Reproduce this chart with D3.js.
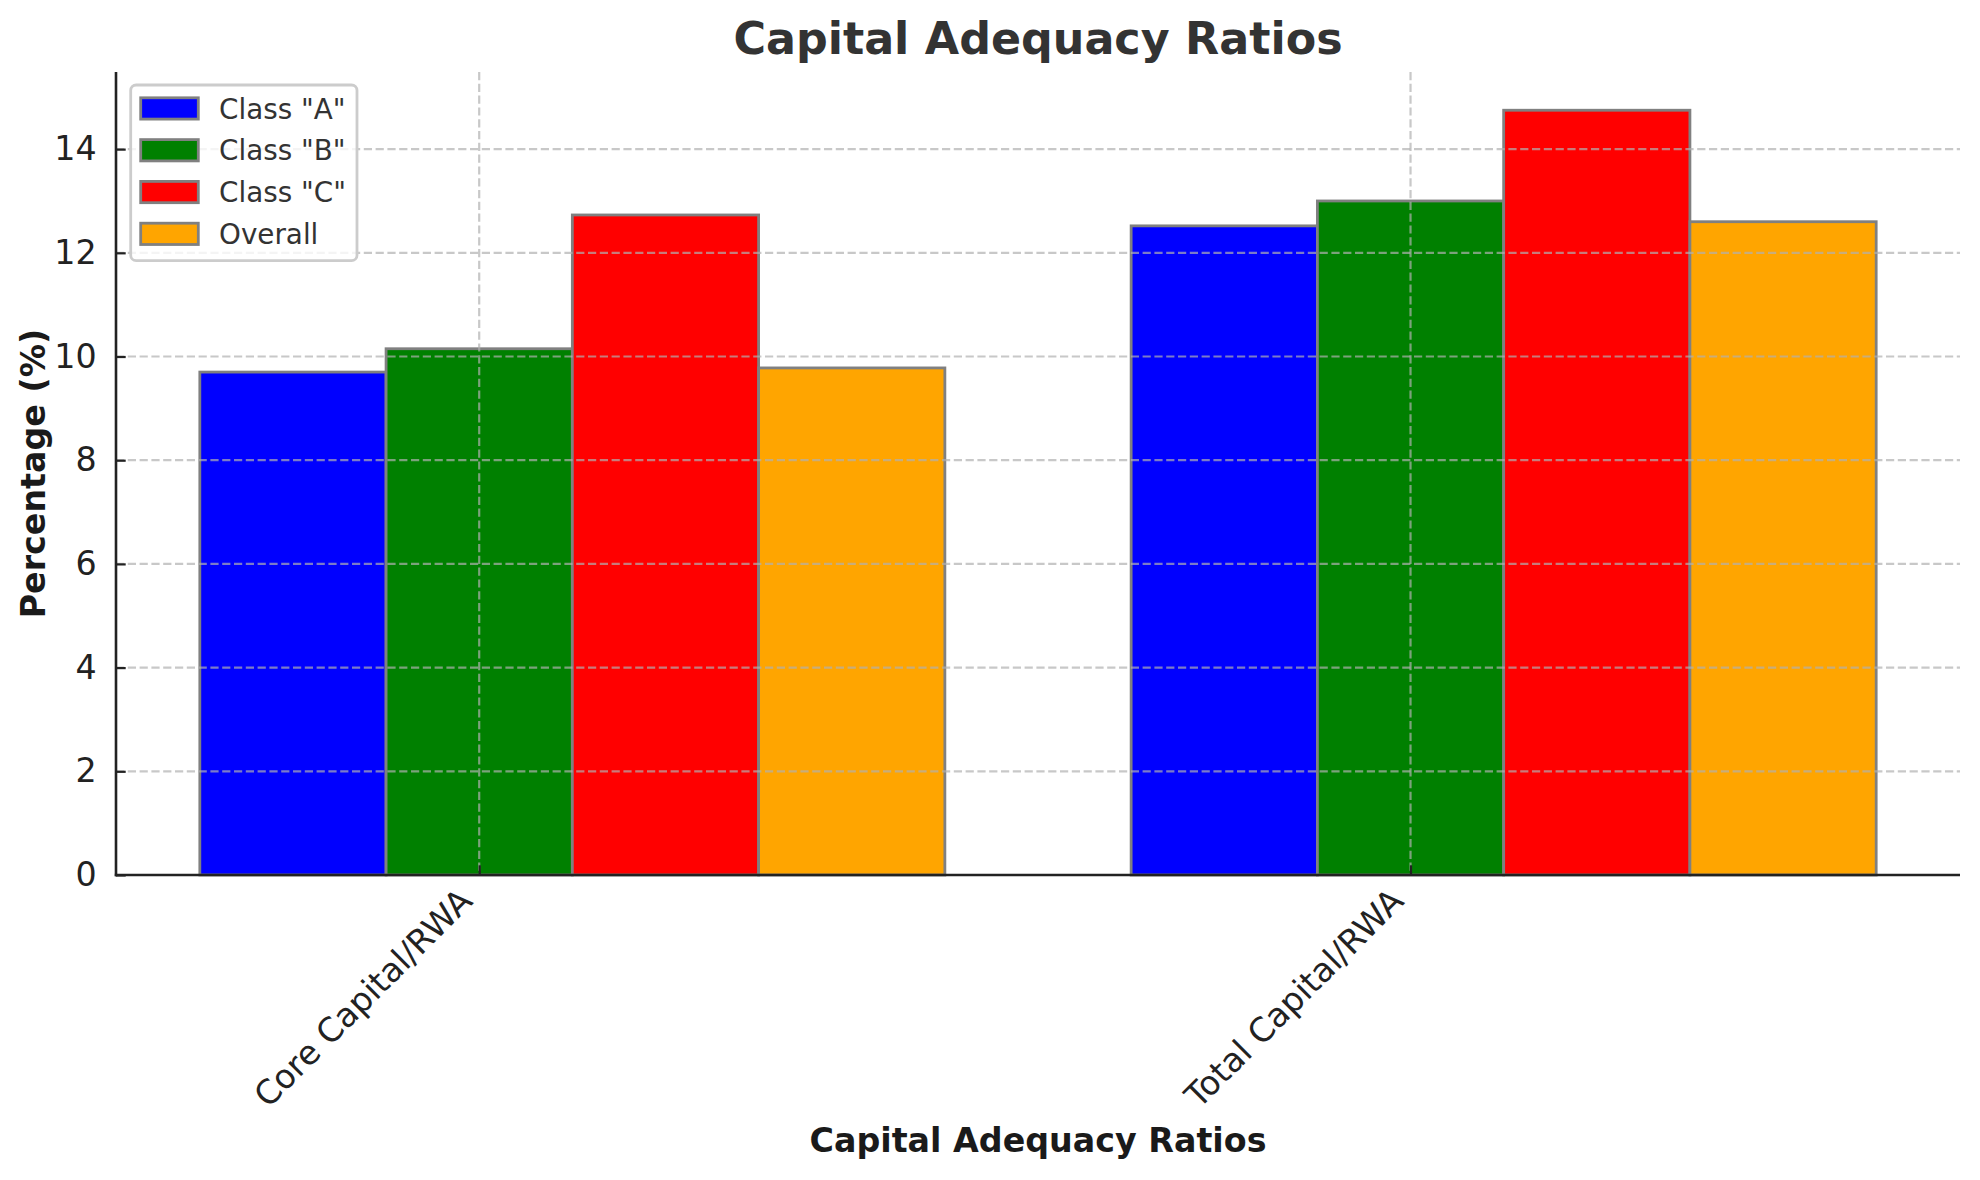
<!DOCTYPE html>
<html>
<head>
<meta charset="utf-8">
<script src="https://cdn.jsdelivr.net/npm/d3@7"></script>
<style>
  html, body { margin: 0; padding: 0; background: #fff; }
  svg { display: block; font-family: "DejaVu Sans", sans-serif; }
</style>
</head>
<body>
<svg id="chart" width="1980" height="1180"></svg>
<script>
// ---- data ----
const categories = ["Core Capital/RWA", "Total Capital/RWA"];
const seriesNames = ['Class "A"', 'Class "B"', 'Class "C"', "Overall"];
const classA = [9.70, 12.52];
const classB = [10.15, 13.00];
const classC = [12.73, 14.75];
const overall = [9.78, 12.60];
const seriesColors = ["#0000ff", "#008000", "#ff0000", "#ffa500"];
const yTicks = [0, 2, 4, 6, 8, 10, 12, 14];
const titleText = "Capital Adequacy Ratios";
const xLabelText = "Capital Adequacy Ratios";
const yLabelText = "Percentage (%)";

const seriesValues = [classA, classB, classC, overall];

(function () {
// ---- layout ----
const svg = d3.select("#chart");
const mLeft = 116, mRight = 1960, mTop = 72, mBottom = 875;
const barW = 0.2;
const offsets = [-0.2, 0, 0.2, 0.4];

const allVals = seriesValues.flat();
const yMax = d3.max(allVals) * 1.05;
const xMin = offsets[0] - barW / 2, xMax = (categories.length - 1) + offsets[3] + barW / 2;
const xPad = (xMax - xMin) * 0.05;

const x = d3.scaleLinear().domain([xMin - xPad, xMax + xPad]).range([mLeft, mRight]);
const y = d3.scaleLinear().domain([0, yMax]).range([mBottom, mTop]);

// ---- bars ----
const barData = [];
seriesValues.forEach((vals, s) => {
  vals.forEach((v, c) => {
    barData.push({ s, c, v });
  });
});
svg.append("g").selectAll("rect").data(barData).join("rect")
  .attr("x", d => x(d.c + offsets[d.s] - barW / 2))
  .attr("width", d => x(d.c + offsets[d.s] + barW / 2) - x(d.c + offsets[d.s] - barW / 2))
  .attr("y", d => y(d.v))
  .attr("height", d => y(0) - y(d.v))
  .attr("fill", d => seriesColors[d.s])
  .attr("stroke", "#808080")
  .attr("stroke-width", 2.8);

// ---- grid (above bars, like matplotlib) ----
const grid = svg.append("g")
  .attr("stroke", "#b0b0b0")
  .attr("stroke-opacity", 0.7)
  .attr("stroke-width", 2.2)
  .attr("stroke-dasharray", "8.2,3.6");
grid.selectAll("line.h").data(yTicks).join("line").attr("class", "h")
  .attr("x1", mLeft).attr("x2", mRight)
  .attr("y1", d => y(d)).attr("y2", d => y(d));
grid.selectAll("line.v").data(categories.map((c, i) => i)).join("line").attr("class", "v")
  .attr("y1", mTop).attr("y2", mBottom)
  .attr("x1", d => x(d)).attr("x2", d => x(d));

// ---- axes ----
const yAxis = d3.axisLeft(y).tickValues(yTicks).tickSizeInner(-9.7).tickSizeOuter(0).tickPadding(19.4).tickFormat(d3.format("d"));
const gy = svg.append("g").attr("transform", `translate(${mLeft},0)`).call(yAxis);
gy.select(".domain").remove();
gy.selectAll(".tick line").attr("stroke", "#222").attr("stroke-width", 2.2);
gy.selectAll(".tick text")
  .attr("font-size", 33.3)
  .attr("fill", "#222")
  .attr("font-family", "DejaVu Sans");

const xAxis = d3.axisBottom(x).tickValues(categories.map((c, i) => i)).tickSizeInner(-9.7).tickSizeOuter(0).tickFormat(i => categories[i]);
const gx = svg.append("g").attr("transform", `translate(0,${mBottom})`).call(xAxis);
gx.select(".domain").remove();
gx.selectAll(".tick line").attr("stroke", "#222").attr("stroke-width", 2.2);
gx.selectAll(".tick text")
  .attr("font-size", 33.3)
  .attr("fill", "#222")
  .attr("font-family", "DejaVu Sans")
  .attr("text-anchor", "end")
  .attr("dy", null)
  .attr("y", null)
  .attr("transform", "translate(-5.6,28) rotate(-45)");

// spines
svg.append("line").attr("x1", mLeft).attr("x2", mLeft).attr("y1", mTop).attr("y2", mBottom + 1.2)
  .attr("stroke", "#222").attr("stroke-width", 2.6);
svg.append("line").attr("x1", mLeft - 1.2).attr("x2", mRight).attr("y1", mBottom).attr("y2", mBottom)
  .attr("stroke", "#222").attr("stroke-width", 2.6);

// ---- titles ----
svg.append("text").attr("x", (mLeft + mRight) / 2).attr("y", 54)
  .attr("text-anchor", "middle").attr("font-size", 44.4).attr("font-weight", "bold")
  .attr("fill", "#333").text(titleText);
svg.append("text").attr("x", (mLeft + mRight) / 2).attr("y", 1152)
  .attr("text-anchor", "middle").attr("font-size", 33.3).attr("font-weight", "bold")
  .attr("fill", "#1a1a1a").text(xLabelText);
svg.append("text")
  .attr("transform", `translate(45,${(mTop + mBottom) / 2}) rotate(-90)`)
  .attr("text-anchor", "middle").attr("font-size", 33.3).attr("font-weight", "bold")
  .attr("fill", "#1a1a1a").text(yLabelText);

// ---- legend ----
const lg = svg.append("g");
lg.append("rect").attr("x", 130.7).attr("y", 85).attr("width", 226.3).attr("height", 175.7)
  .attr("rx", 5.5).attr("ry", 5.5)
  .attr("fill", "#fff").attr("fill-opacity", 0.8)
  .attr("stroke", "#cccccc").attr("stroke-width", 2.8);
const items = lg.selectAll("g.item").data(seriesNames).join("g").attr("class", "item")
  .attr("transform", (d, i) => `translate(0,${108.4 + i * 41.8})`);
items.append("rect").attr("x", 140.7).attr("y", -10.6).attr("width", 57.6).attr("height", 21.3)
  .attr("fill", (d, i) => seriesColors[i]).attr("stroke", "#808080").attr("stroke-width", 2.8);
items.append("text").attr("x", 219).attr("y", 10.2)
  .attr("font-size", 27.8).attr("fill", "#333").text(d => d);
})();
</script>
</body>
</html>
